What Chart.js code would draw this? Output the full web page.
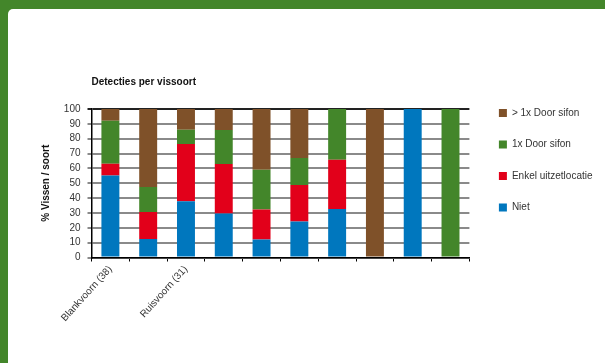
<!DOCTYPE html>
<html>
<head>
<meta charset="utf-8">
<script src="https://cdn.jsdelivr.net/npm/chart.js@4"></script>
<style>
  html, body { margin: 0; padding: 0; }
  body { width: 605px; height: 363px; background: #43862a; position: relative; overflow: hidden; }
  .panel { position: absolute; left: 8px; top: 9px; width: 620px; height: 380px; background: #fff; border-radius: 5px; }
  #chart { position: absolute; left: 0; top: 0; }
</style>
</head>
<body>
<div class="panel"></div>
<canvas id="chart" width="605" height="363"></canvas>
<script>
const categories = ['Blankvoorn (38)', '', 'Ruisvoorn (31)', '', '', '', '', '', '', ''];
const niet = [55.3, 12.5, 37.8, 29.6, 12.2, 24.3, 32.6, 0, 100, 0];
const enkel = [7.9, 18.2, 38.7, 33.4, 20.1, 24.6, 33.3, 0, 0, 0];
const eenmaalSifon = [28.9, 16.8, 9.5, 22.9, 26.8, 18.1, 34.1, 0, 0, 100];
const meerSifon = [7.9, 52.5, 14, 14.1, 40.9, 33, 0, 100, 0, 0];
const yTicks = { min: 0, max: 100, step: 10 };

const font = '"Liberation Sans Narrow", "Liberation Sans", Arial, sans-serif';

const ctx = document.getElementById('chart').getContext('2d');

new Chart(ctx, {
    type: 'bar',
    data: {
        labels: categories,
        datasets: [
            { label: 'Niet', data: niet, backgroundColor: '#0077be' },
            { label: 'Enkel uitzetlocatie', data: enkel, backgroundColor: '#e2001a' },
            { label: '1x Door sifon', data: eenmaalSifon, backgroundColor: '#43862a' },
            { label: '> 1x Door sifon', data: meerSifon, backgroundColor: '#7f5129' }
        ]
    },
    options: {
        responsive: false,
        animation: false,
        devicePixelRatio: 1,
        barPercentage: 0.475,
        categoryPercentage: 1,
        layout: { padding: { left: 40, top: 75, right: 2.5, bottom: 0 } },
        plugins: {
            tooltip: { enabled: false },
            title: {
                display: true,
                text: 'Detecties per vissoort',
                align: 'start',
                fullSize: false,
                color: '#111',
                font: { family: font, size: 10, weight: 'bold' },
                padding: { top: 1, bottom: 21 }
            },
            legend: {
                position: 'right',
                align: 'start',
                reverse: true,
                maxWidth: 200,
                title: { display: true, text: '', font: { size: 9.6 }, padding: 0 },
                labels: {
                    boxWidth: 8,
                    boxHeight: 8,
                    padding: 21.5,
                    color: '#333',
                    font: { family: font, size: 10 }
                }
            }
        },
        scales: {
            x: {
                stacked: true,
                offset: true,
                afterFit: s => { s.height = 105.5; },
                grid: { drawOnChartArea: false, drawTicks: true, tickLength: 4, color: '#000', offset: true },
                border: { display: true, color: '#000', width: 1.5 },
                ticks: {
                    autoSkip: false,
                    minRotation: 48,
                    maxRotation: 48,
                    padding: 2,
                    color: '#333',
                    font: { family: font, size: 10 }
                }
            },
            y: {
                stacked: true,
                min: yTicks.min,
                max: yTicks.max,
                afterFit: s => { s.width = 51.5; },
                grid: {
                    tickLength: 4,
                    lineWidth: 2,
                    color: c => (c.tick && c.tick.value === yTicks.max) ? '#222' : '#8a8a8a'
                },
                border: { display: true, color: '#000', width: 1.5 },
                ticks: {
                    stepSize: yTicks.step,
                    autoSkip: false,
                    padding: 7,
                    color: '#333',
                    font: { family: font, size: 10 }
                },
                title: {
                    display: true,
                    text: '% Vissen / soort',
                    color: '#111',
                    padding: 0,
                    font: { family: font, size: 10, weight: 'bold' }
                }
            },
            yR: {
                type: 'linear',
                position: 'right',
                display: true,
                afterFit: s => { s.width = 8; },
                grid: { display: false },
                border: { display: false },
                ticks: { display: false }
            }
        }
    }
});
</script>
</body>
</html>
